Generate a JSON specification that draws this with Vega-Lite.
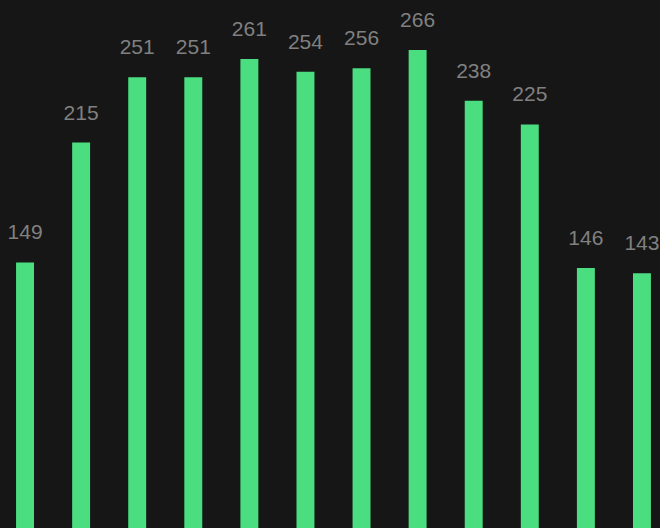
{
  "$schema": "https://vega.github.io/schema/vega-lite/v6.json",
  "width": 660,
  "height": 528,
  "autosize": {"type": "none"},
  "padding": 0,
  "background": "#161616",
  "config": {"view": {"stroke": null}},
  "data": {"values": [
    {"k": "1", "v": 149}, {"k": "2", "v": 215}, {"k": "3", "v": 251}, {"k": "4", "v": 251},
    {"k": "5", "v": 261}, {"k": "6", "v": 254}, {"k": "7", "v": 256}, {"k": "8", "v": 266},
    {"k": "9", "v": 238}, {"k": "10", "v": 225}, {"k": "11", "v": 146}, {"k": "12", "v": 143}
  ]},
  "encoding": {
    "x": {"field": "k", "type": "nominal", "sort": null, "axis": null,
          "scale": {"range": [-3, 670], "paddingInner": 0.68, "paddingOuter": 0.34}},
    "y": {"field": "v", "type": "quantitative", "axis": null,
          "scale": {"domain": [0, 266], "range": [533, 50], "zero": true, "nice": false}}
  },
  "layer": [
    {"mark": {"type": "bar", "color": "#4ade80", "clip": false}},
    {"mark": {"type": "text", "color": "#808080", "font": "Liberation Sans", "fontSize": 21, "baseline": "alphabetic", "dy": -23},
     "encoding": {"text": {"field": "v", "type": "quantitative"}}}
  ]
}
